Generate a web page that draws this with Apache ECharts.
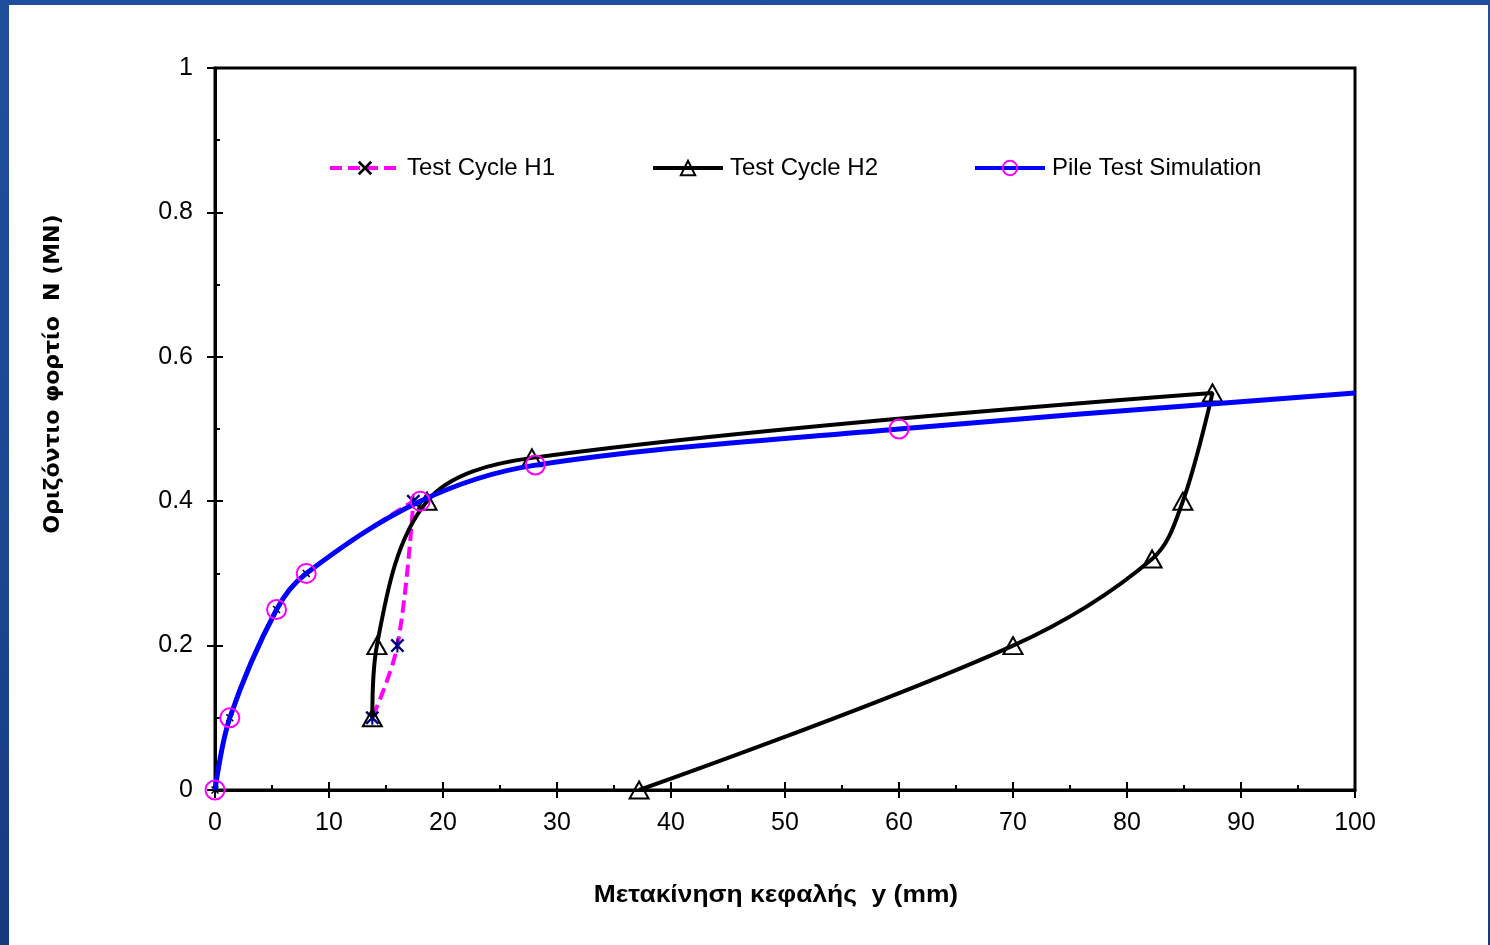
<!DOCTYPE html>
<html>
<head>
<meta charset="utf-8">
<script src="https://cdn.jsdelivr.net/npm/echarts@6/dist/echarts.min.js"></script>
<style>
  html, body { margin: 0; padding: 0; width: 1490px; height: 945px; overflow: hidden;
    background: linear-gradient(180deg, #1f4f9c 0%, #1c4690 60%, #163a7e 100%); }
  #chart { position: absolute; left: 9px; top: 5px; width: 1479px; height: 940px; background: #fff; }
</style>
</head>
<body>
<div id="chart"></div>
<script>
// Horizontal displacement of pile head y (mm) vs. horizontal load N (MN)
const h1X = [0, 1.3, 5.4, 8.0, 17.4, 16.0, 13.8];
const h1Y = [0, 0.1, 0.25, 0.3, 0.4, 0.2, 0.1];
const h1UnloadFrom = 4; // first point of the unloading branch

const h2X = [13.8, 14.2, 18.6, 27.8, 87.5, 84.9, 82.2, 70.0, 37.2];
const h2Y = [0.1, 0.2, 0.4, 0.46, 0.55, 0.4, 0.32, 0.2, 0];

const simX = [0, 1.3, 5.4, 8.0, 18.0, 28.1, 60.0, 100];
const simY = [0, 0.1, 0.25, 0.3, 0.4, 0.45, 0.5, 0.55];

const seriesNames = ['Test Cycle H1', 'Test Cycle H2', 'Pile Test Simulation'];
const xTitle = 'Μετακίνηση κεφαλής  y (mm)';
const yTitle = 'Οριζόντιο φορτίο  N (MN)';

const xMark = 'path://M0,1.3 L1.3,0 L10,8.7 L8.7,10 Z M8.7,0 L10,1.3 L1.3,10 L0,8.7 Z';
const starMark = 'path://M0,1.2 L1.2,0 L10,8.8 L8.8,10 Z M8.8,0 L10,1.2 L1.2,10 L0,8.8 Z M4.25,0 L5.75,0 L5.75,10 L4.25,10 Z';

const pairs = (xs, ys) => xs.map((x, i) => [x, ys[i]]);

const h1Data = pairs(h1X, h1Y).map((p, i) => i >= h1UnloadFrom
  ? { value: p, symbol: starMark, symbolSize: 14, itemStyle: { color: '#000080' } }
  : { value: p });
const simData = pairs(simX, simY).map((p, i) => i === simX.length - 1
  ? { value: p, symbol: 'none' } : { value: p });

const font = 'Liberation Sans, Arial, sans-serif';
const black = '#000';

const legendBase = { top: 151, itemWidth: 70, itemHeight: 18, padding: 0,
  lineStyle: { width: 4 },
  textStyle: { fontFamily: font, fontSize: 24, color: black, padding: [0, 0, 0, 2] } };

const chart = echarts.init(document.getElementById('chart'), null, { renderer: 'canvas' });
chart.setOption({
  animation: false,
  backgroundColor: '#fff',
  grid: { left: 206, top: 63, right: 133, bottom: 155, show: true,
    borderColor: black, borderWidth: 3, backgroundColor: 'transparent' },
  legend: [
    Object.assign({ left: 319, data: [seriesNames[0]] }, legendBase),
    Object.assign({ left: 642, data: [seriesNames[1]] }, legendBase),
    Object.assign({ left: 964, data: [seriesNames[2]] }, legendBase)
  ],
  xAxis: [
    { type: 'value', min: 0, max: 100, interval: 10, position: 'bottom',
      axisLine: { lineStyle: { color: black, width: 3 } },
      axisTick: { inside: false, length: 8, lineStyle: { color: black, width: 2 } },
      axisLabel: { fontFamily: font, fontSize: 25, color: black, margin: 21 },
      splitLine: { show: false } },
    { type: 'value', min: 0, max: 100, interval: 10, position: 'bottom',
      axisLine: { show: false },
      axisTick: { inside: true, length: 8, lineStyle: { color: black, width: 2 } },
      minorTick: { show: true, splitNumber: 2, length: 5, lineStyle: { color: black, width: 2 } },
      axisLabel: { show: false }, splitLine: { show: false } }
  ],
  yAxis: [
    { type: 'value', min: 0, max: 1, interval: 0.2, position: 'left',
      axisLine: { lineStyle: { color: black, width: 3 } },
      axisTick: { inside: false, length: 8, lineStyle: { color: black, width: 2 } },
      axisLabel: { fontFamily: font, fontSize: 25, color: black, margin: 22 },
      splitLine: { show: false } },
    { type: 'value', min: 0, max: 1, interval: 0.2, position: 'left',
      axisLine: { show: false },
      axisTick: { inside: true, length: 8, lineStyle: { color: black, width: 2 } },
      minorTick: { show: true, splitNumber: 2, length: 5, lineStyle: { color: black, width: 2 } },
      axisLabel: { show: false }, splitLine: { show: false } }
  ],
  graphic: [
    { type: 'text', x: 767, y: 890, scaleX: 1.1,
      style: { text: xTitle, font: 'bold 24px ' + font, fill: black,
        align: 'center', verticalAlign: 'middle' } },
    { type: 'text', x: 44, y: 369, rotation: Math.PI / 2,
      style: { text: yTitle, font: 'bold 22px DejaVu Sans, Verdana, sans-serif', fill: black,
        align: 'center', verticalAlign: 'middle' } }
  ],
  series: [
    { name: seriesNames[0], type: 'line', data: h1Data, smooth: 0.35, z: 2,
      symbol: xMark, symbolSize: 8, showAllSymbol: true,
      itemStyle: { color: black },
      lineStyle: { color: '#ff00ff', width: 4, type: [12, 6] } },
    { name: seriesNames[1], type: 'line', data: pairs(h2X, h2Y), smooth: 0.35, z: 3,
      symbol: 'triangle', symbolSize: [19, 17], showAllSymbol: true,
      itemStyle: { color: 'rgba(0,0,0,0)', borderColor: black, borderWidth: 2 },
      lineStyle: { color: black, width: 4 } },
    { name: seriesNames[2], type: 'line', data: simData, smooth: 0.35, z: 4,
      symbol: 'circle', symbolSize: 19, showAllSymbol: true,
      itemStyle: { color: 'rgba(0,0,0,0)', borderColor: '#ff00ff', borderWidth: 2 },
      lineStyle: { color: '#0000ff', width: 5 } }
  ]
});
</script>
</body>
</html>
